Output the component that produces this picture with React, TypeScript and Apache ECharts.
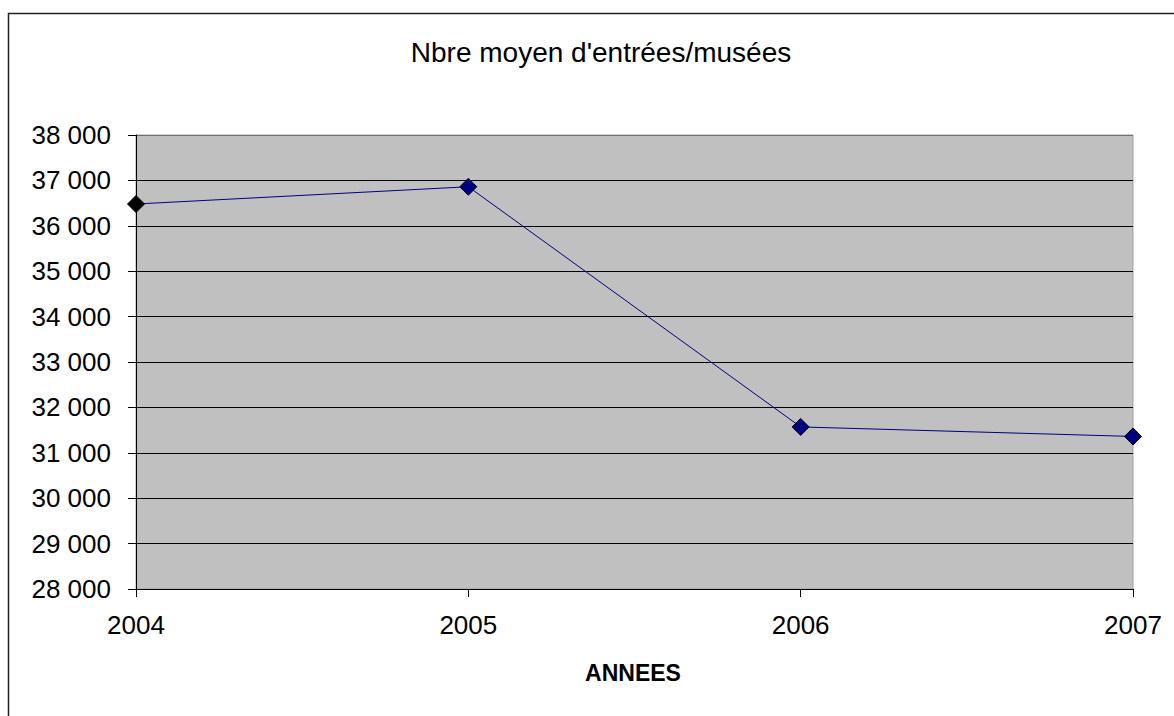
import React, { useEffect, useRef } from "react";
import * as echarts from "echarts";

const years = ["2004", "2005", "2006", "2007"];
const values = [36480, 36860, 31570, 31360];
const yMin = 28000;
const yMax = 38000;
const yStep = 1000;
const title = "Nbre moyen d'entrées/musées";
const xName = "ANNEES";

const FONT = "'Liberation Sans', Arial, sans-serif";

export default function App() {
  const ref = useRef<HTMLDivElement>(null);
  useEffect(() => {
    if (!ref.current) return;
    const chart = echarts.init(ref.current, undefined, { renderer: "svg" });
    const nTicks = (yMax - yMin) / yStep + 1;
    const splitColors: string[] = [];
    for (let i = 0; i < nTicks; i++) splitColors.push(i === nTicks - 1 ? "#707070" : "#000000");
    chart.setOption({
      animation: false,
      backgroundColor: "#ffffff",
      textStyle: { fontFamily: FONT },
      graphic: [
        {
          type: "rect",
          shape: { x: 8.5, y: 13.5, width: 1400, height: 1000 },
          style: { fill: "none", stroke: "#222", lineWidth: 1.5 },
          silent: true,
        },
        {
          type: "text",
          x: 601,
          y: 52,
          style: {
            text: title,
            fontSize: 28,
            fontFamily: FONT,
            fill: "#000",
            textAlign: "center",
            textVerticalAlign: "middle",
          },
        },
        {
          type: "text",
          x: 633,
          y: 673,
          style: {
            text: xName,
            fontSize: 23,
            fontWeight: "bold",
            fontFamily: FONT,
            fill: "#000",
            textAlign: "center",
            textVerticalAlign: "middle",
          },
        },
      ],
      grid: {
        left: 136,
        right: 41,
        top: 135,
        bottom: 127,
        show: true,
        backgroundColor: "#C0C0C0",
        borderColor: "#a0a0a0",
        borderWidth: 1,
      },
      xAxis: {
        type: "category",
        data: years,
        boundaryGap: false,
        axisLine: { show: true, lineStyle: { color: "#000", width: 1 } },
        axisTick: { show: true, length: 8, lineStyle: { color: "#000" } },
        axisLabel: { fontSize: 26, color: "#000", margin: 23, fontFamily: FONT },
        splitLine: { show: false },
      },
      yAxis: {
        type: "value",
        min: yMin,
        max: yMax,
        interval: yStep,
        axisLine: { show: true, lineStyle: { color: "#000", width: 1 } },
        axisTick: { show: true, length: 8, lineStyle: { color: "#000" } },
        axisLabel: {
          fontSize: 26,
          color: "#000",
          margin: 25,
          fontFamily: FONT,
          formatter: (v: number) => String(v).replace(/\B(?=(\d{3})+(?!\d))/g, " "),
        },
        splitLine: { show: true, lineStyle: { color: splitColors, width: 1 } },
      },
      series: [
        {
          type: "line",
          data: values.map((v, i) =>
            i === 0 ? { value: v, itemStyle: { color: "#000000" } } : v
          ),
          symbol: "diamond",
          symbolSize: 17,
          showAllSymbol: true,
          lineStyle: { color: "#000080", width: 1 },
          itemStyle: { color: "#000080", borderColor: "#000", borderWidth: 1 },
        },
      ],
    });
    return () => chart.dispose();
  }, []);
  return (
    <div
      ref={ref}
      style={{ position: "absolute", left: 0, top: 0, width: 1174, height: 716 }}
    />
  );
}
